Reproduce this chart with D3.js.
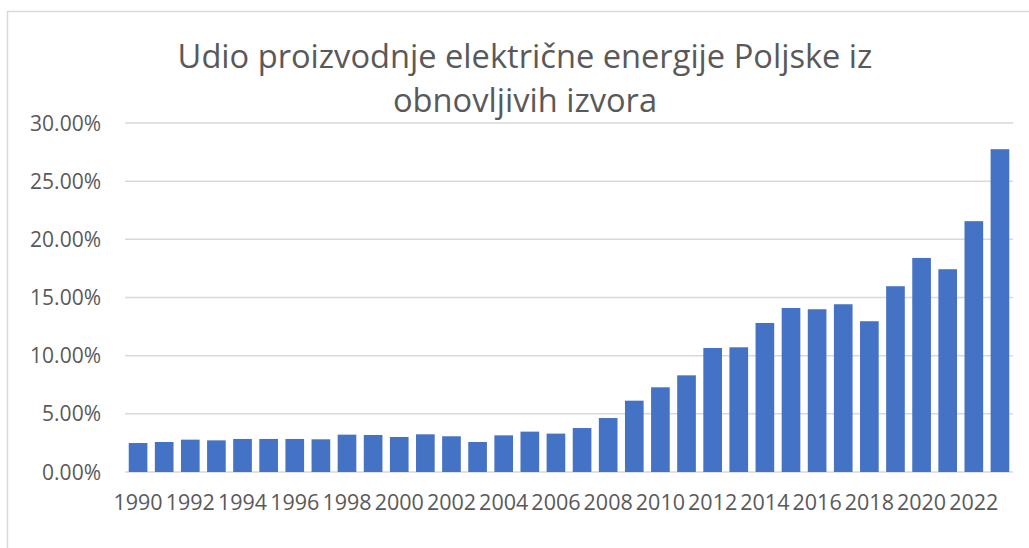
<!DOCTYPE html>
<html>
<head>
<meta charset="utf-8">
<title>index.html</title>
<script src="https://d3js.org/d3.v7.min.js"></script>
<style>
  body { margin: 0; background: #fff; }
  svg text { font-family: "Open Sans", sans-serif; fill: #595959; }
</style>
</head>
<body>
<svg width="1029" height="548"></svg>
<script>
var years = d3.range(1990, 2024);
var shares = [2.49, 2.58, 2.78, 2.72, 2.84, 2.84, 2.84, 2.81, 3.21, 3.18,
              3.01, 3.24, 3.07, 2.58, 3.15, 3.47, 3.30, 3.78, 4.64, 6.13,
              7.28, 8.31, 10.66, 10.72, 12.81, 14.10, 13.99, 14.42, 12.96, 15.97,
              18.40, 17.43, 21.56, 27.75];
var yTicks = [0, 5, 10, 15, 20, 25, 30];
var titleLines = ["Udio proizvodnje električne energije Poljske iz", "obnovljivih izvora"];

var svg = d3.select("svg"),
    width = +svg.attr("width"),
    height = +svg.attr("height"),
    margin = { top: 123, right: 16, bottom: 76, left: 125 };

// chart frame (only top and left edges visible)
svg.append("path")
    .attr("d", "M7.5," + height + "V11.5H" + width)
    .attr("fill", "none")
    .attr("stroke", "#d9d9d9")
    .attr("stroke-width", 1.5);

var x = d3.scaleBand()
    .domain(years)
    .range([margin.left, width - margin.right])
    .paddingInner(0.4 / 1.4)
    .paddingOuter(0.2 / 1.4);

var y = d3.scaleLinear()
    .domain([0, 30])
    .range([height - margin.bottom, margin.top]);

// gridlines
svg.append("g")
  .selectAll("line")
  .data(yTicks)
  .enter().append("line")
    .attr("x1", margin.left)
    .attr("x2", width - margin.right)
    .attr("y1", function(d) { return y(d); })
    .attr("y2", function(d) { return y(d); })
    .attr("stroke", "#d9d9d9")
    .attr("stroke-width", 1.5);

// y labels
svg.append("g")
  .selectAll("text")
  .data(yTicks)
  .enter().append("text")
    .attr("x", 101)
    .attr("y", function(d) { return y(d); })
    .attr("dy", "0.36em")
    .attr("text-anchor", "end")
    .style("font-size", "21px")
    .text(function(d) { return d.toFixed(2) + "%"; });

// bars
svg.append("g")
  .selectAll("rect")
  .data(shares)
  .enter().append("rect")
    .attr("x", function(d, i) { return x(years[i]); })
    .attr("width", x.bandwidth())
    .attr("y", function(d) { return y(d); })
    .attr("height", function(d) { return y(0) - y(d); })
    .attr("fill", "#4472c4");

// x labels, every second year
svg.append("g")
  .selectAll("text")
  .data(years.filter(function(d) { return d % 2 === 0; }))
  .enter().append("text")
    .attr("x", function(d) { return x(d) + x.bandwidth() / 2; })
    .attr("y", 510)
    .attr("text-anchor", "middle")
    .style("font-size", "21.5px")
    .text(function(d) { return d; });

// title, sized so the first line spans roughly the same width as the original
var title = svg.append("g")
  .selectAll("text")
  .data(titleLines)
  .enter().append("text")
    .attr("x", 525)
    .attr("y", function(d, i) { return 68 + i * 44; })
    .attr("text-anchor", "middle")
    .style("font-size", "28px")
    .text(function(d) { return d; });

var w0 = title.node().getComputedTextLength();
title.style("font-size", (28 * 695 / w0) + "px");
</script>
</body>
</html>
